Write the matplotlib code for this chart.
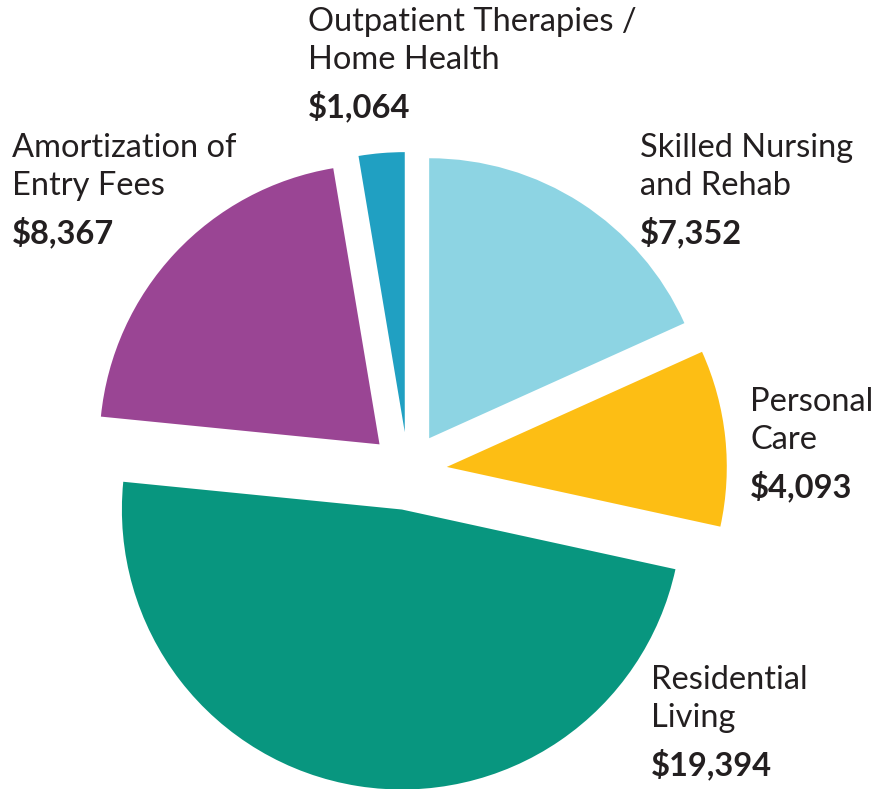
import matplotlib
matplotlib.use("Agg")
import matplotlib.pyplot as plt

# ---- data ----
categories = ["Skilled Nursing\nand Rehab", "Personal\nCare", "Residential\nLiving",
              "Amortization of\nEntry Fees", "Outpatient Therapies /\nHome Health"]
values = [7352, 4093, 19394, 8367, 1064]
value_labels = ["$7,352", "$4,093", "$19,394", "$8,367", "$1,064"]
colors = ["#8DD4E3", "#FDBE14", "#08967F", "#9A4594", "#20A0C2"]

# ---- layout (pixel units) ----
W, H = 892, 789
label_xy = [(640, 148), (750, 402), (651, 680), (12, 148), (308, 22)]

fig = plt.figure(figsize=(W / 100, H / 100), dpi=100)
ax = fig.add_axes([0, 0, 1, 1])
ax.pie(values, colors=colors, startangle=90, counterclock=False,
       explode=[39] * len(values), radius=280, center=(408, H - 471),
       wedgeprops=dict(linewidth=0))
ax.set_xlim(0, W)
ax.set_ylim(0, H)
ax.set_aspect("equal")
ax.axis("off")

font = ["Lato", "DejaVu Sans"]
for (x, y), name, val in zip(label_xy, categories, value_labels):
    lines = name.split("\n")
    for i, ln in enumerate(lines):
        ax.text(x, H - (y + 38 * i), ln, fontsize=23.5, family=font,
                color="#231F20", ha="left", va="center")
    ax.text(x, H - (y + 38 * (len(lines) - 1) + 46), val, fontsize=23.5,
            family=font, fontweight="bold", color="#231F20", ha="left", va="center")

fig.savefig("out.png", dpi=100)
